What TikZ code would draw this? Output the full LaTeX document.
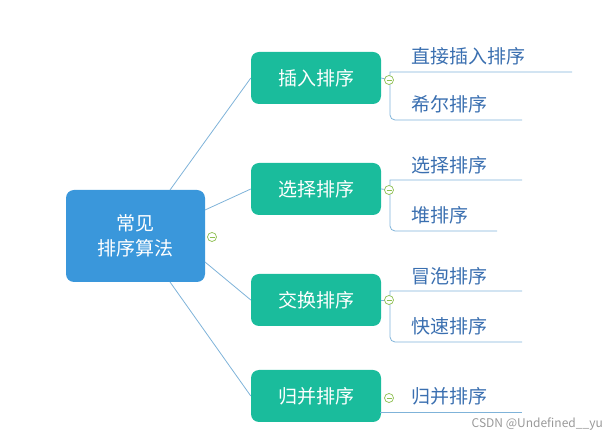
\documentclass[tikz,border=0pt]{standalone}
\usepackage{fontspec}
\setmainfont{Noto Sans CJK SC}
\begin{document}
\begin{tikzpicture}[x=1pt,y=-1pt,
  root/.style={fill=rootblue,rounded corners=8pt,minimum width=139pt,minimum height=92pt,text=white,font=\fontsize{19}{25}\selectfont,align=center},
  mid/.style={fill=midgreen,rounded corners=8pt,minimum width=130pt,minimum height=52pt,text=white,font=\fontsize{19}{23}\selectfont},
  leaf/.style={anchor=west,inner sep=0pt,text=leaftext,font=\fontsize{19}{23}\selectfont},
  conn/.style={draw=lineblue,line width=0.8pt},
  tog/.style={circle,draw=toggreen,fill=white,line width=0.7pt,minimum size=9pt,inner sep=0pt,
    path picture={\draw[toggreen,line width=0.8pt] ([xshift=-2.5pt]path picture bounding box.center)--([xshift=2.5pt]path picture bounding box.center);}}]
\definecolor{rootblue}{HTML}{3A97DB}
\definecolor{midgreen}{HTML}{1ABC9C}
\definecolor{lineblue}{HTML}{7FB3D9}
\definecolor{leaftext}{HTML}{3A6FB0}
\definecolor{toggreen}{HTML}{8DBF4F}
\useasboundingbox (0,0) rectangle (614,443);
\node[root] (r) at (135.5,236) {常见\\排序算法};
\node[mid] (a) at (316,78) {插入排序};
\node[mid] (b) at (316,189) {选择排序};
\node[mid] (c) at (316,300) {交换排序};
\node[mid] (d) at (316,396) {归并排序};
\draw[conn] (170,190) -- (a.west);
\draw[conn] (205,210) -- (b.west);
\draw[conn] (205,262) -- (c.west);
\draw[conn] (170,282) -- (d.west);
% leaves
\node[leaf] (a1) at (411,56) {直接插入排序};
\node[leaf] (a2) at (411,104) {希尔排序};
\node[leaf] (b1) at (411,165) {选择排序};
\node[leaf] (b2) at (411,215) {堆排序};
\node[leaf] (c1) at (411,276) {冒泡排序};
\node[leaf] (c2) at (411,326) {快速排序};
\node[leaf] (d1) at (411,396) {归并排序};
\coordinate (ab) at (390,72); \coordinate (ae) at (572,72);
\coordinate (af) at (522,120);
\coordinate (bb) at (390,180); \coordinate (be) at (522,180);
\coordinate (bf) at (497,231);
\coordinate (cb) at (390,291); \coordinate (ce) at (522,291);
\coordinate (cf) at (522,342);
\coordinate (db) at (380,412); \coordinate (de) at (522,412);
\draw[conn] (ae) -- (ab) [rounded corners=5pt]-- (390,120) -- (af);
\draw[conn] (be) -- (bb) [rounded corners=5pt]-- (390,231) -- (bf);
\draw[conn] (ce) -- (cb) [rounded corners=5pt]-- (390,342) -- (cf);
\draw[conn] (db) -- (de);
\draw[conn] (a.east) -- (390,80);
\draw[conn] (b.east) -- (390,190);
\draw[conn] (c.east) -- (390,300);
\node[tog] (ta) at (389,80) {};
\node[tog] (tb) at (389,190) {};
\node[tog] (tc) at (389,300) {};
\node[tog] (td) at (389,398) {};
\node[tog] (tr) at (212,237) {};
\node[anchor=east,text=gray!80,font=\fontsize{12}{14}\selectfont,inner sep=0pt] (wm) at (603,424) {CSDN @Undefined\_\_yu};
\end{tikzpicture}
\end{document}
